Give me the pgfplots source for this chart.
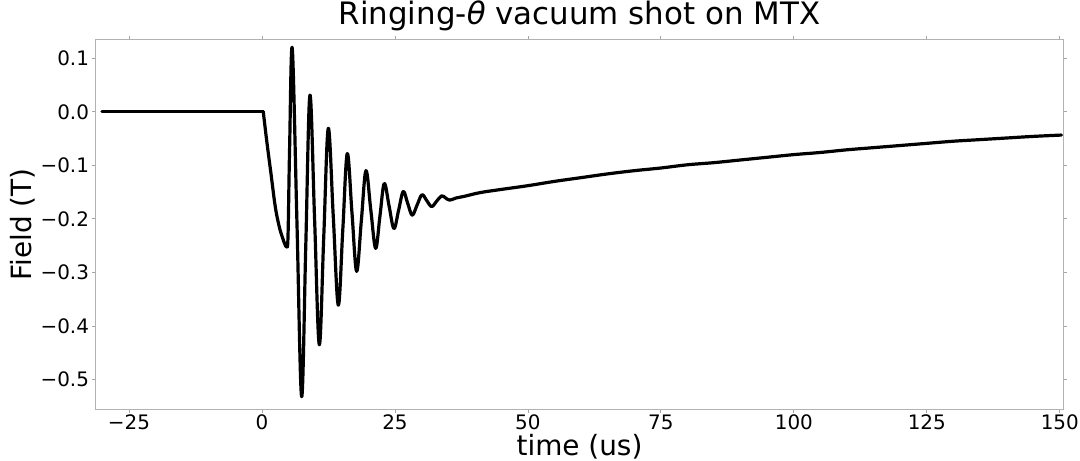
\documentclass[border=0pt]{standalone}
\usepackage{pgfplots}
\pgfplotsset{compat=1.18}
\usepackage{fontspec}
\setmainfont{DejaVu Sans}
\begin{document}
\begin{tikzpicture}
\path[use as bounding box] (-96bp,-52bp) rectangle (984bp,409bp);
\begin{axis}[
  at={(0,0)}, anchor=south west,
  scale only axis, width=967bp, height=369bp,
  xmin=-31.2, xmax=150.6, ymin=-0.555, ymax=0.134,
  xtick={-25,0,25,50,75,100,125,150},
  xticklabels={−25,0,25,50,75,100,125,150},
  ytick={-0.5,-0.4,-0.3,-0.2,-0.1,0,0.1},
  yticklabels={−0.5,−0.4,−0.3,−0.2,−0.1,0.0,0.1},
  tick align=outside, major tick length=3.5bp,
  tick style={gray!70, line width=0.8bp},
  axis line style={gray!60, line width=1bp},
  ticklabel style={font=\fontsize{20}{24}\selectfont},
  xticklabel style={inner sep=0pt, yshift=-2bp},
  xlabel={time (us)}, ylabel={Field (T)},
  label style={font=\fontsize{28}{34}\selectfont},
  xlabel style={at={(axis description cs:0.5,-0.102)}, anchor=center, inner sep=0pt},
  ylabel style={at={(axis description cs:-0.076,0.5)}, anchor=center},
  title={Ringing-\textit{θ} vacuum shot on MTX},
  title style={font=\fontsize{31}{37}\selectfont, at={(axis description cs:0.5,1.0488)}, anchor=center},
]
\addplot[black, line width=3bp, line cap=round, line join=round] coordinates {
(-30.1,0.0) (0.25,0.0)
};
\addplot[black, line width=3.2bp, line cap=round, line join=round, smooth, tension=0.6] coordinates {
(0.25,0.0) (0.88,-0.053) (1.69,-0.115) (2.5,-0.177) (3.26,-0.215) (3.9,-0.236) (4.3,-0.247)
(4.64,-0.252) (4.9,-0.232) (5.2,-0.067) (5.7,0.118) (6.58,-0.207) (7.46,-0.532) (8.24,-0.25)
(9.02,0.031) (9.9,-0.202) (10.78,-0.435) (11.62,-0.233) (12.47,-0.031) (13.41,-0.196)
(14.35,-0.361) (15.2,-0.22) (16.04,-0.078) (16.92,-0.188) (17.80,-0.298) (18.68,-0.204)
(19.55,-0.110) (20.46,-0.183) (21.37,-0.255) (22.18,-0.195) (22.99,-0.134) (23.9,-0.176)
(24.81,-0.218) (25.69,-0.184) (26.56,-0.149) (27.4,-0.171) (28.25,-0.193) (29.17,-0.174)
(30.08,-0.155) (30.99,-0.166) (31.9,-0.177) (32.84,-0.167) (33.78,-0.157) (34.54,-0.161)
(35.3,-0.165) (36.5,-0.161) (38,-0.158) (41,-0.151) (45,-0.145) (50,-0.138) (55,-0.130)
(60,-0.123) (65,-0.116) (70,-0.110) (75,-0.105) (80,-0.099) (85,-0.095) (90,-0.090)
(95,-0.085) (100,-0.080) (105,-0.076) (110,-0.071) (115,-0.067) (120,-0.063) (125,-0.059)
(130,-0.055) (135,-0.052) (140,-0.049) (145,-0.046) (150.3,-0.0435)
};
\end{axis}
\end{tikzpicture}
\end{document}
